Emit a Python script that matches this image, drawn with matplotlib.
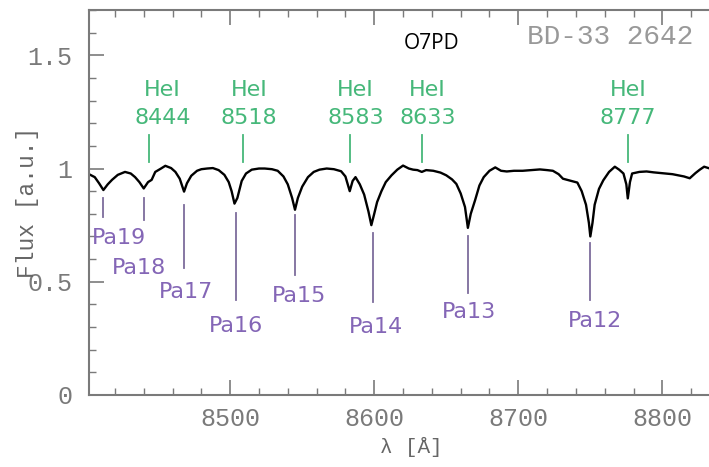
import matplotlib
matplotlib.use("Agg")
import matplotlib.pyplot as plt
from matplotlib.ticker import MultipleLocator

# spectrum
wave = [8402, 8406, 8409, 8412, 8415, 8418, 8422, 8427, 8431, 8434, 8437, 8440,
        8443, 8445.5, 8448, 8452, 8455, 8459, 8462, 8465, 8468, 8470, 8473, 8477,
        8480, 8484, 8488, 8492, 8496, 8499, 8501, 8503, 8505, 8508, 8511, 8515,
        8520, 8524, 8529, 8533, 8537, 8540, 8543, 8545, 8547, 8550, 8554, 8558,
        8562, 8567, 8572, 8577, 8580, 8583, 8585, 8587, 8590, 8593, 8596, 8598,
        8600, 8602, 8605, 8608, 8612, 8616, 8620, 8624, 8627, 8630, 8633, 8636,
        8641, 8646, 8650, 8654, 8657, 8660, 8663, 8665, 8667, 8670, 8673, 8676,
        8680, 8684, 8688, 8692, 8697, 8703, 8709, 8715, 8720, 8724, 8728, 8731,
        8734, 8737, 8741, 8744, 8747, 8749, 8750, 8751.5, 8753, 8756, 8759, 8763,
        8767, 8770, 8773, 8775, 8776, 8777.5, 8779, 8784, 8789, 8794, 8799, 8803,
        8807, 8811, 8815, 8819, 8823, 8826, 8829, 8833]
flux = [0.975, 0.962, 0.935, 0.905, 0.93, 0.95, 0.972, 0.985, 0.978, 0.962, 0.94, 0.912,
        0.94, 0.95, 0.985, 1.0, 1.012, 1.002, 0.985, 0.955, 0.898, 0.935, 0.968, 0.99,
        0.997, 1.0, 1.002, 0.993, 0.972, 0.94, 0.9, 0.845, 0.87, 0.945, 0.978, 0.995,
        1.0, 1.0, 0.997, 0.99, 0.965, 0.93, 0.87, 0.818, 0.87, 0.92, 0.962, 0.985,
        0.995, 1.0, 0.997, 0.988, 0.965, 0.9, 0.945, 0.962, 0.93, 0.885, 0.81, 0.75,
        0.8, 0.852, 0.9, 0.94, 0.97, 0.995, 1.013, 1.0, 0.995, 0.993, 0.985, 0.993,
        0.99, 0.982, 0.97, 0.952, 0.932, 0.89, 0.83, 0.738, 0.8, 0.86, 0.925, 0.962,
        0.99, 1.005, 0.99, 0.987, 0.99, 0.99, 0.993, 0.996, 0.993, 0.99, 0.975, 0.955,
        0.95, 0.945, 0.938, 0.9, 0.84, 0.76, 0.7, 0.76, 0.84, 0.91, 0.948, 0.985,
        1.008, 0.995, 0.978, 0.93, 0.868, 0.94, 0.978, 0.985, 0.987, 0.983, 0.98, 0.978,
        0.975, 0.97, 0.965, 0.957, 0.98, 0.995, 1.008, 1.0]

# HeI line markers
he_wave = [8444, 8509, 8583, 8633, 8776]
he_names = ["8444", "8518", "8583", "8633", "8777"]
he_text_x = [8453, 8513, 8587, 8637, 8776]

# Paschen line markers
pa_wave = [8412, 8440, 8468, 8504, 8545, 8599, 8665, 8750]
pa_top = [0.87, 0.87, 0.839, 0.804, 0.795, 0.715, 0.70, 0.67]
pa_bottom = [0.786, 0.773, 0.561, 0.419, 0.53, 0.41, 0.45, 0.419]
pa_names = ["Pa19", "Pa18", "Pa17", "Pa16", "Pa15", "Pa14", "Pa13", "Pa12"]
pa_text_x = [8423, 8437, 8469, 8504, 8548, 8601, 8666, 8753]
pa_text_y = [0.693, 0.561, 0.455, 0.305, 0.437, 0.30, 0.366, 0.327]

GREEN = "#46b87a"
PURPLE = "#8466b6"
PURPLE_LINE = "#7d6c9c"
GRAY = "#7a7a7a"
MONO = "Liberation Mono"

fig = plt.figure(figsize=(7.09, 4.67), dpi=100)
ax = fig.add_axes([0.1255, 0.1542, 0.890, 0.8244])

ax.plot(wave, flux, color="black", linewidth=1.7)

for w, name, tx in zip(he_wave, he_names, he_text_x):
    ax.plot([w, w], [1.027, 1.15], color=GREEN, linewidth=1.3)
    ax.text(tx, 1.345, "HeI", color=GREEN, fontsize=16, ha="center", va="center")
    ax.text(tx, 1.222, name, color=GREEN, fontsize=16, ha="center", va="center")

for w, top, bot, name, tx, ty in zip(pa_wave, pa_top, pa_bottom, pa_names, pa_text_x, pa_text_y):
    ax.plot([w, w], [bot, top], color=PURPLE_LINE, linewidth=1.3)
    ax.text(tx, ty, name, color=PURPLE, fontsize=16, ha="center", va="center")

ax.text(8640, 1.554, "O7PD", color="black", fontsize=15, family="Open Sans",
        ha="center", va="center")
ax.text(8821.5, 1.58, "BD-33 2642", color="#999999", fontsize=20, family=MONO,
        ha="right", va="center")

ax.set_xlim(8402, 8840)
ax.set_ylim(0, 1.7)
ax.xaxis.set_major_locator(MultipleLocator(100))
ax.xaxis.set_minor_locator(MultipleLocator(20))
ax.yaxis.set_major_locator(MultipleLocator(0.5))
ax.yaxis.set_minor_locator(MultipleLocator(0.1))
ax.set_yticks([0, 0.5, 1, 1.5])
ax.set_yticklabels(["0", "0.5", "1", "1.5"])

ax.tick_params(which="both", direction="in", top=True, right=False, colors=GRAY)
ax.tick_params(which="major", length=11, width=1.2)
ax.tick_params(which="minor", length=5, width=1.0)
ax.tick_params(axis="y", pad=12)
ax.tick_params(axis="x", pad=9)
for lab in ax.get_xticklabels() + ax.get_yticklabels():
    lab.set_family(MONO)
    lab.set_fontsize(18)
    lab.set_color(GRAY)

for side in ["left", "bottom", "top"]:
    ax.spines[side].set_color(GRAY)
    ax.spines[side].set_linewidth(1.5)
ax.spines["right"].set_visible(False)

ax.set_xlabel("λ [Å]", family=MONO, fontsize=15, color="#666666", va="center")
ax.xaxis.set_label_coords(0.51, -0.135)
ax.set_ylabel("Flux [a.u.]", family=MONO, fontsize=16.5, color="#666666", va="center")
ax.yaxis.set_label_coords(-0.097, 0.5)

fig.savefig("out.png", dpi=100)
